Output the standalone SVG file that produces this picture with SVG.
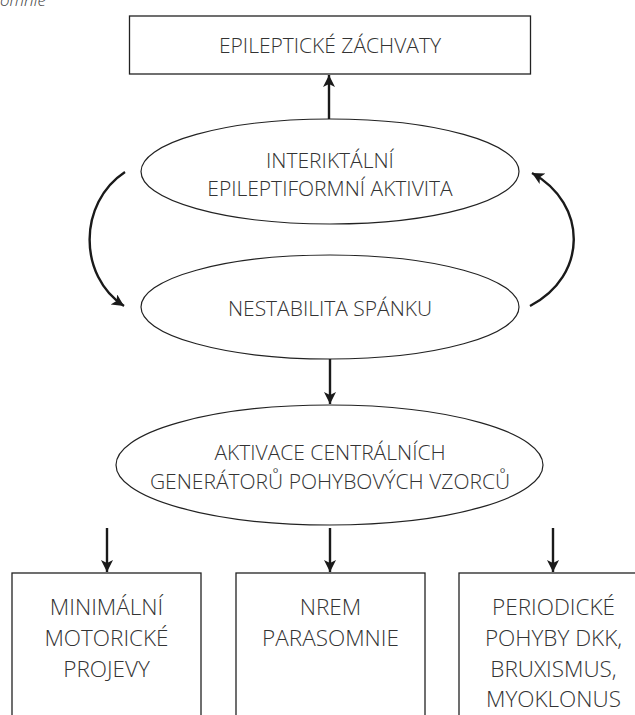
<svg xmlns="http://www.w3.org/2000/svg" width="635" height="715" viewBox="0 0 635 715">
<defs>
<style>
.box{fill:#fff;stroke:#222;stroke-width:1.3}
.ell{fill:#fff;stroke:#222;stroke-width:1.2}
.t{font-family:"Open Sans","Liberation Sans",sans-serif;font-weight:300;font-size:21px;fill:#333;text-anchor:middle}
.tb{font-size:22.5px}
.c{fill:none;stroke:#1a1a1a;stroke-width:2.4}
.cap{font-family:"Open Sans","Liberation Sans",sans-serif;font-style:italic;font-weight:300;font-size:17px;fill:#444}
</style>
<marker id="ah" viewBox="0 0 10 10" refX="10" refY="5" markerWidth="6.5" markerHeight="5" markerUnits="strokeWidth" orient="auto">
<path d="M0,0 L10,5 L0,10 L2.5,5 Z" fill="#1a1a1a"/>
</marker>
</defs>
<rect width="635" height="715" fill="#fff"/>
<text class="cap" x="0" y="6">omnie</text>
<g id="n-zachvaty">
<rect class="box" x="129.5" y="16" width="401" height="58"/>
<text class="t" x="330" y="52.5">EPILEPTICKÉ ZÁCHVATY</text>
</g>
<g id="n-interiktalni">
<ellipse class="ell" cx="330" cy="171.5" rx="189" ry="52.5"/>
<text class="t" x="330" y="168">INTERIKTÁLNÍ</text>
<text class="t" x="330" y="196">EPILEPTIFORMNÍ AKTIVITA</text>
</g>
<g id="n-nestabilita">
<ellipse class="ell" cx="330" cy="307" rx="189" ry="52"/>
<text class="t" x="330" y="316">NESTABILITA SPÁNKU</text>
</g>
<g id="n-aktivace">
<ellipse class="ell" cx="329.5" cy="465" rx="213.5" ry="60"/>
<text class="t" x="330" y="460">AKTIVACE CENTRÁLNÍCH</text>
<text class="t" x="330" y="488.5">GENERÁTORŮ POHYBOVÝCH VZORCŮ</text>
</g>
<g id="n-minimalni">
<rect class="box" x="12" y="573" width="189" height="150"/>
<text class="t tb" x="106.5" y="615">MINIMÁLNÍ</text>
<text class="t tb" x="106.5" y="646">MOTORICKÉ</text>
<text class="t tb" x="106.5" y="677">PROJEVY</text>
</g>
<g id="n-nrem">
<rect class="box" x="236" y="573" width="189" height="150"/>
<text class="t tb" x="330.5" y="615">NREM</text>
<text class="t tb" x="330.5" y="646">PARASOMNIE</text>
</g>
<g id="n-periodicke">
<rect class="box" x="459" y="573" width="189" height="150"/>
<text class="t tb" x="553.5" y="615">PERIODICKÉ</text>
<text class="t tb" x="553.5" y="646">POHYBY DKK,</text>
<text class="t tb" x="553.5" y="677">BRUXISMUS,</text>
<text class="t tb" x="553.5" y="707">MYOKLONUS</text>
</g>
<g id="connectors">
<path class="c" d="M329,119 L329,75" marker-end="url(#ah)"/>
<path class="c" d="M125,172 C78,203 78,276 124,306" marker-end="url(#ah)"/>
<path class="c" d="M530,306 C588,276 588,204 532,173" marker-end="url(#ah)"/>
<path class="c" d="M330,359 L330,404" marker-end="url(#ah)"/>
<path class="c" d="M107,528 L107,572" marker-end="url(#ah)"/>
<path class="c" d="M330,528 L330,572" marker-end="url(#ah)"/>
<path class="c" d="M553,528 L553,572" marker-end="url(#ah)"/>
</g>
</svg>
